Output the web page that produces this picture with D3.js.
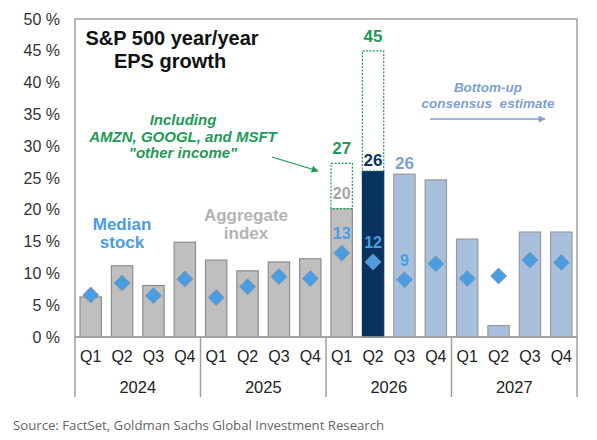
<!DOCTYPE html>
<html>
<head>
<meta charset="utf-8">
<script src="https://cdn.jsdelivr.net/npm/d3@7/dist/d3.min.js"></script>
<style>
  body { margin: 0; background: #fff; }
  svg text { font-family: "Liberation Sans", Arial, sans-serif; }
</style>
</head>
<body>
<div id="chart"></div>
<script>
// quarterly EPS growth, % y/y
const years = ['2024', '2025', '2026', '2027'];
const quarters = ['Q1', 'Q2', 'Q3', 'Q4'];
const aggregate = [6.3, 11.2, 8.1, 14.9, 12.1, 10.4, 11.8, 12.3, 20.2, 26.1, 25.6, 24.7, 15.4, 1.8, 16.5, 16.5];
const median = [6.6, 8.5, 6.5, 9.1, 6.2, 7.9, 9.5, 9.2, 13.2, 11.8, 9.0, 11.5, 9.2, 9.6, 12.1, 11.7];
// 'a' = actual, 'c' = current quarter, 'e' = consensus estimate
const barKind = ['a', 'a', 'a', 'a', 'a', 'a', 'a', 'a', 'a', 'c', 'e', 'e', 'e', 'e', 'e', 'e'];
// incl. AMZN, GOOGL, MSFT "other income"
const otherIncome = [null, null, null, null, null, null, null, null, 27.3, 45, null, null, null, null, null, null];
const aggLabels = [null, null, null, null, null, null, null, null, '20', '26', '26', null, null, null, null, null];
const otherLabels = [null, null, null, null, null, null, null, null, '27', '45', null, null, null, null, null, null];
const medianLabels = [null, null, null, null, null, null, null, null, '13', '12', '9', null, null, null, null, null];
const yTicks = [0, 5, 10, 15, 20, 25, 30, 35, 40, 45, 50];

const width = 597, height = 440;
const margin = { left: 75, right: 20, top: 19, bottom: 103 };
const green = '#1f9a55';
const medBlue = '#4a9de0';
const estBlue = '#7f9fcf';
const frame = '#a0a0a0';

const svg = d3.select('#chart').append('svg')
    .attr('width', width)
    .attr('height', height);

const idx = d3.range(aggregate.length);
const x = d3.scaleBand()
    .domain(idx)
    .range([margin.left, width - margin.right])
    .paddingInner(0.32)
    .paddingOuter(0.16);

const y = d3.scaleLinear()
    .domain([0, 50])
    .range([height - margin.bottom, margin.top]);

const x0 = margin.left, x1 = width - margin.right;
const y0 = y(0);

// plot frame
svg.append('rect')
    .attr('x', x0).attr('y', y(50))
    .attr('width', x1 - x0).attr('height', y0 - y(50))
    .attr('fill', 'none')
    .attr('stroke', frame)
    .attr('stroke-width', 1.5);

// y axis labels
const yAxis = d3.axisLeft(y)
    .tickValues(yTicks)
    .tickSize(0)
    .tickPadding(15)
    .tickFormat(d => d + ' %');
svg.append('g')
    .attr('transform', `translate(${x0},0)`)
    .call(yAxis)
    .call(g => g.select('.domain').remove())
    .call(g => g.selectAll('text')
        .attr('font-size', 16)
        .attr('fill', '#333')
        .style('font-family', '"Liberation Sans", Arial, sans-serif'));

// bars
const fillFor = k => k === 'a' ? '#bfbfbf' : k === 'c' ? '#08335e' : '#a9c0dc';
const strokeFor = k => k === 'a' ? '#8c8c8c' : k === 'c' ? '#08335e' : '#999999';

svg.append('g').selectAll('rect')
    .data(idx)
    .enter()
    .append('rect')
    .attr('x', i => x(i))
    .attr('y', i => y(aggregate[i]))
    .attr('width', x.bandwidth())
    .attr('height', i => y0 - y(aggregate[i]))
    .attr('fill', i => fillFor(barKind[i]))
    .attr('stroke', i => strokeFor(barKind[i]))
    .attr('stroke-width', 1.2);

// dashed "other income" boxes
svg.append('g').selectAll('rect')
    .data(idx.filter(i => otherIncome[i] != null))
    .enter()
    .append('rect')
    .attr('x', i => x(i))
    .attr('y', i => y(otherIncome[i]))
    .attr('width', x.bandwidth())
    .attr('height', i => y(aggregate[i]) - y(otherIncome[i]))
    .attr('fill', '#fff')
    .attr('stroke', green)
    .attr('stroke-width', 1.2)
    .attr('stroke-dasharray', '2,1.5');

// baseline
svg.append('line')
    .attr('x1', x0).attr('x2', x1)
    .attr('y1', y0).attr('y2', y0)
    .attr('stroke', frame)
    .attr('stroke-width', 1.5);

// median stock diamonds
const r = 8;
svg.append('g').selectAll('path')
    .data(idx)
    .enter()
    .append('path')
    .attr('d', i => {
        const cx = x(i) + x.bandwidth() / 2, cy = y(median[i]);
        return `M${cx},${cy - r}L${cx + r},${cy}L${cx},${cy + r}L${cx - r},${cy}Z`;
    })
    .attr('fill', medBlue)
    .attr('stroke', '#7d93ab')
    .attr('stroke-width', 0.8);

// value labels
const cxOf = i => x(i) + x.bandwidth() / 2;
const labels = svg.append('g')
    .attr('text-anchor', 'middle')
    .attr('font-weight', 'bold');

idx.forEach(i => {
    if (otherLabels[i]) {
        labels.append('text')
            .attr('x', cxOf(i))
            .attr('y', y(otherIncome[i]) - 9)
            .attr('font-size', 17)
            .attr('fill', green)
            .text(otherLabels[i]);
    }
    if (aggLabels[i]) {
        const k = barKind[i];
        const inside = otherIncome[i] != null && k === 'a';
        labels.append('text')
            .attr('x', cxOf(i))
            .attr('y', inside ? y(aggregate[i]) - 10 : y(aggregate[i]) - 5)
            .attr('font-size', inside ? 16 : 17)
            .attr('fill', inside ? '#a6a6a6' : k === 'c' ? '#08335e' : estBlue)
            .text(aggLabels[i]);
    }
    if (medianLabels[i]) {
        labels.append('text')
            .attr('x', cxOf(i))
            .attr('y', y(median[i]) - 14)
            .attr('font-size', 16)
            .attr('fill', medBlue)
            .text(medianLabels[i]);
    }
});

// category axis: quarters and years
const qAxis = svg.append('g').attr('text-anchor', 'middle');
qAxis.selectAll('text')
    .data(idx)
    .enter()
    .append('text')
    .attr('x', cxOf)
    .attr('y', y0 + 25)
    .attr('font-size', 16)
    .attr('fill', '#222')
    .text(i => quarters[i % 4]);

const step = x.step();
years.forEach((yr, j) => {
    const left = x0 + j * 4 * step;
    qAxis.append('text')
        .attr('x', left + 2 * step)
        .attr('y', y0 + 56)
        .attr('font-size', 16.5)
        .attr('fill', '#222')
        .text(yr);
});
d3.range(years.length + 1).forEach(j => {
    svg.append('line')
        .attr('x1', x0 + j * 4 * step).attr('x2', x0 + j * 4 * step)
        .attr('y1', y0).attr('y2', y0 + 60)
        .attr('stroke', frame)
        .attr('stroke-width', 1.5);
});

// title
const title = svg.append('g')
    .attr('text-anchor', 'middle')
    .attr('font-weight', 'bold')
    .attr('font-size', 20)
    .attr('fill', '#111');
title.append('text').attr('x', 172).attr('y', 45).text('S&P 500 year/year');
title.append('text').attr('x', 170).attr('y', 68).text('EPS growth');

// annotations
const ann = svg.append('g')
    .attr('text-anchor', 'middle')
    .attr('font-weight', 'bold')
    .attr('font-style', 'italic');
ann.selectAll('.oi')
    .data(['Including', 'AMZN, GOOGL, and MSFT', '"other income"'])
    .enter()
    .append('text')
    .attr('x', 183)
    .attr('y', (d, k) => 125 + k * 16.5)
    .attr('font-size', 15)
    .attr('fill', green)
    .text(d => d);

ann.selectAll('.bu')
    .data(['Bottom-up', 'consensus  estimate'])
    .enter()
    .append('text')
    .attr('x', 488)
    .attr('y', (d, k) => 92 + k * 15.5)
    .attr('font-size', 13.5)
    .attr('fill', estBlue)
    .style('white-space', 'pre')
    .text(d => d);

const legend = svg.append('g')
    .attr('text-anchor', 'middle')
    .attr('font-weight', 'bold')
    .attr('font-size', 17);
legend.selectAll('.md')
    .data(['Median', 'stock'])
    .enter()
    .append('text')
    .attr('x', 122)
    .attr('y', (d, k) => 230 + k * 18)
    .attr('fill', medBlue)
    .text(d => d);
legend.selectAll('.ag')
    .data(['Aggregate', 'index'])
    .enter()
    .append('text')
    .attr('x', 246)
    .attr('y', (d, k) => 221 + k * 18)
    .attr('fill', '#b3b3b3')
    .text(d => d);

// arrows
const defs = svg.append('defs');
const marker = (id, color) => defs.append('marker')
    .attr('id', id)
    .attr('viewBox', '0 0 10 10')
    .attr('refX', 9).attr('refY', 5)
    .attr('markerWidth', 9).attr('markerHeight', 7)
    .attr('markerUnits', 'userSpaceOnUse')
    .attr('orient', 'auto')
    .append('path')
    .attr('d', 'M0,0L10,5L0,10Z')
    .attr('fill', color);
marker('arrG', green);
marker('arrB', estBlue);

svg.append('line')
    .attr('x1', 272).attr('y1', 157)
    .attr('x2', 318).attr('y2', 171)
    .attr('stroke', green)
    .attr('stroke-width', 1.3)
    .attr('marker-end', 'url(#arrG)');

svg.append('line')
    .attr('x1', 430).attr('y1', 119)
    .attr('x2', 545).attr('y2', 119)
    .attr('stroke', estBlue)
    .attr('stroke-width', 1.3)
    .attr('marker-end', 'url(#arrB)');

// source
svg.append('text')
    .attr('x', 13)
    .attr('y', 430)
    .attr('font-size', 13.2)
    .attr('fill', '#666')
    .style('font-family', '"Open Sans", "Noto Sans", sans-serif')
    .text('Source: FactSet, Goldman Sachs Global Investment Research');
</script>
</body>
</html>
